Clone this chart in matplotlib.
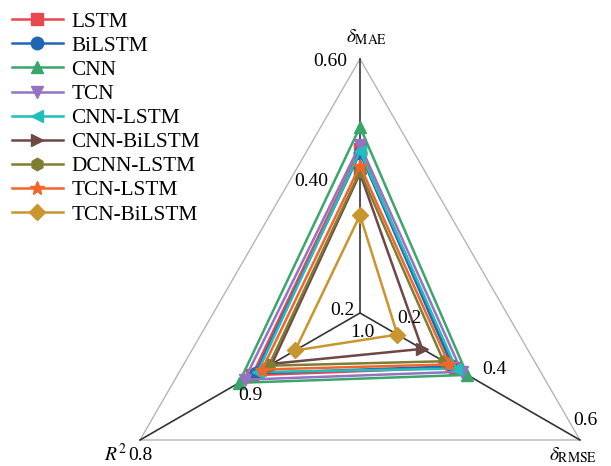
"""Radar chart of error metrics (MAE, RMSE, R2) for nine models."""

import matplotlib
matplotlib.use("Agg")
import matplotlib.pyplot as plt
import numpy as np

plt.rcParams["font.family"] = ["Liberation Serif", "DejaVu Serif"]
plt.rcParams["mathtext.fontset"] = "stix"

models = ["LSTM", "BiLSTM", "CNN", "TCN", "CNN-LSTM", "CNN-BiLSTM",
          "DCNN-LSTM", "TCN-LSTM", "TCN-BiLSTM"]
mae = [0.458, 0.452, 0.493, 0.465, 0.455, 0.420, 0.423, 0.432, 0.354]
rmse = [0.372, 0.368, 0.395, 0.385, 0.375, 0.313, 0.352, 0.362, 0.268]
r2 = [0.902, 0.905, 0.890, 0.895, 0.907, 0.920, 0.917, 0.911, 0.941]

# axis ranges: value at centre, value at outer vertex
mae_range = (0.2, 0.6)
rmse_range = (0.2, 0.6)
r2_range = (1.0, 0.8)
mae_ticks = ["0.2", "0.40", "0.60"]
rmse_ticks = ["0.2", "0.4", "0.6"]
r2_ticks = ["1.0", "0.9", "0.8"]

colors = ["#E8474F", "#2166B5", "#3BA66B", "#9572C2", "#22BDBD",
          "#6E4747", "#7E7E33", "#F2652C", "#C9952F"]
markers = ["s", "o", "^", "v", "<", ">", "h", "*", "D"]
msizes = [8, 9, 9, 9, 9, 9, 9, 10, 8]

angles = np.deg2rad([90, -30, 210])


def to_xy(vals):
    ranges = [mae_range, rmse_range, r2_range]
    r = np.array([(v - lo) / (hi - lo) for v, (lo, hi) in zip(vals, ranges)])
    return r * np.cos(angles), r * np.sin(angles)


fig = plt.figure(figsize=(6.11, 4.66), dpi=100)
ax = fig.add_axes([0, 0, 1, 1])
ax.set_xlim(-360 / 254, 251 / 254)
ax.set_ylim(-153 / 254, 313 / 254)
ax.set_aspect("equal")
ax.axis("off")

# outer frame and spokes
vx, vy = np.cos(angles), np.sin(angles)
ax.plot(np.append(vx, vx[0]), np.append(vy, vy[0]), color="#b5b5b5", lw=1.0, zorder=1)
for x, y in zip(vx, vy):
    ax.plot([0, x], [0, y], color="#333333", lw=1.2, zorder=1)

for i, name in enumerate(models):
    xs, ys = to_xy([mae[i], rmse[i], r2[i]])
    ax.plot(np.append(xs, xs[0]), np.append(ys, ys[0]), color=colors[i], lw=1.8,
            marker=markers[i], ms=msizes[i], markevery=[0, 1, 2], label=name, zorder=3)

tfs = 14
# tick labels, offsets in points from the axis positions
tick_offsets = {
    0: [(-4, 2, "right"), (-23, 3, "right"), (-9, -2, "right")],
    1: [(27, -4, "left"), (9, 5, "left"), (-5, 14, "left")],
    2: [(2, -14, "center"), (0, -14, "center"), (0, -11, "center")],
}
labels = [mae_ticks, rmse_ticks, r2_ticks]
for k in range(3):
    for j, frac in enumerate([0.0, 0.5, 1.0]):
        dx, dy, ha = tick_offsets[k][j]
        ax.annotate(labels[k][j], (frac * vx[k], frac * vy[k]), xytext=(dx, dy),
                    textcoords="offset points", ha=ha, va="center", fontsize=tfs, zorder=4)

ax.annotate(r"$\delta_{\rm MAE}$", (vx[0], vy[0]), xytext=(5, 16), textcoords="offset points",
            ha="center", va="center", fontsize=tfs)
ax.annotate(r"$\delta_{\rm RMSE}$", (vx[1], vy[1]), xytext=(-5, -11), textcoords="offset points",
            ha="center", va="center", fontsize=tfs)
ax.annotate(r"$R^2$", (vx[2], vy[2]), xytext=(-18, -10), textcoords="offset points",
            ha="center", va="center", fontsize=tfs)

ax.legend(loc="upper left", bbox_to_anchor=(0.0, 1.0), frameon=False, fontsize=15.3,
          handlelength=2.4, handletextpad=0.42, labelspacing=0.2, borderaxespad=0.25,
          borderpad=0.3)

fig.savefig("out.png", dpi=100)
